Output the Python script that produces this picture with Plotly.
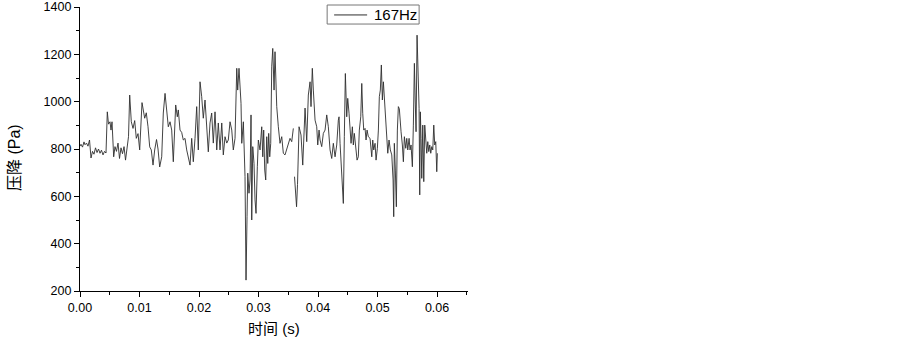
import plotly.graph_objects as go

# time in milliseconds, converted to seconds below
time_ms = [
    0.00, 0.17, 0.42, 0.67, 0.84, 1.09, 1.34, 1.60, 1.85, 2.10, 2.35, 2.61, 2.86, 3.11, 3.36, 3.61,
    3.87, 4.12, 4.37, 4.59, 4.79, 5.04, 5.21, 5.38, 5.66, 5.88, 6.13, 6.39, 6.64, 6.89, 7.14, 7.40,
    7.65, 7.90, 8.15, 8.35, 8.62, 8.91, 9.19, 9.46, 9.75, 10.03, 10.42, 10.87, 11.14, 11.43, 11.71,
    11.98, 12.27, 12.55, 12.86, 13.11, 13.39, 13.73, 14.00, 14.29, 14.57, 14.84, 15.13, 15.41, 15.68,
    16.08, 16.35, 16.52, 16.81, 17.09, 17.36, 17.65, 17.93, 18.20, 18.49, 18.77, 19.04, 19.33, 19.61,
    19.88, 20.17, 20.45, 20.72, 21.01, 21.29, 21.56, 21.85, 22.13, 22.40, 22.69, 22.98, 23.24, 23.53,
    23.82, 24.08, 24.37, 24.66, 24.92, 25.21, 25.50, 25.76, 26.05, 26.34, 26.50, 26.72, 26.89, 27.06,
    27.18, 27.45, 27.73, 27.90, 28.07, 28.19, 28.40, 28.57, 28.74, 28.86, 29.03, 29.24, 29.41, 29.58,
    29.80, 29.97, 30.25, 30.54, 30.71, 30.87, 31.04, 31.21, 31.38, 31.55, 31.71, 31.88, 32.05, 32.22,
    32.39, 32.61, 32.77, 33.06, 33.33, 33.61, 33.90, 34.17, 34.45, 34.74, 35.01, 35.29, 35.58, 35.85,
    35.95, 36.05, 36.22, 36.39, 36.55, 36.81, 37.14, 37.43, 37.82, 38.10, 38.37, 38.66, 38.82, 39.04,
    39.21, 39.50, 39.78, 39.95, 40.17, 40.34, 40.62, 40.89, 41.18, 41.46, 41.73, 42.02, 42.30, 42.57,
    42.86, 43.14, 43.41, 43.53, 43.70, 43.87, 44.08, 44.25, 44.42, 44.59, 44.82, 44.99, 45.21, 45.38,
    45.55, 45.77, 45.93, 46.10, 46.34, 46.56, 46.77, 46.94, 47.18, 47.35, 47.51, 47.68, 47.90, 48.07,
    48.24, 48.45, 48.74, 49.03, 49.19, 49.36, 49.58, 49.75, 49.97, 50.14, 50.30, 50.47, 50.64, 50.81,
    50.98, 51.14, 51.38, 51.55, 51.72, 51.93, 52.15, 52.39, 52.61, 52.72, 52.82, 52.99, 53.16, 53.33,
    53.50, 53.66, 53.78, 53.95, 54.17, 54.34, 54.51, 54.74, 54.91, 55.08, 55.30, 55.46, 55.63, 55.85,
    56.02, 56.19, 56.35, 56.47, 56.64, 56.81, 56.98, 57.09, 57.19, 57.31, 57.43, 57.60, 57.77, 57.93,
    58.10, 58.27, 58.44, 58.61, 58.77, 58.94, 59.11, 59.28, 59.45, 59.61, 59.78, 59.95, 60.05,
]

# pressure drop (Pa); None marks the gap in the record
pressure_pa = [
    812, 820, 808, 830, 818, 825, 812, 838, 762, 790, 778, 805, 785, 800, 782, 795,
    775, 790, 783, 957, 905, 915, 880, 915, 767, 810, 790, 825, 760, 805, 780, 810,
    753, 800, 852, 1028, 915, 887, 920, 845, 865, 796, 996, 930, 953, 894, 809,
    796, 732, 796, 840, 800, 724, 767, 952, 1035, 944, 894, 915, 880, 746,
    986, 936, 965, 880, 870, 838, 845, 796, 767, 732, 845, 746, 845, 979,
    796, 1084, 1021, 930, 1007, 894, 788, 910, 952, 825, 957, 796, 910, 796,
    910, 775, 852, 825, 838, 915, 880, 796, 845, 1141, 1049, 1141, 1049, 993,
    824, 915, 683, 246, 514, 698, 613, 669, 944, 500, 810, 739, 585, 528,
    725, 838, 796, 894, 767, 880, 711, 669, 852, 739, 866, 767, 824, 1150,
    1225, 1049, 1211, 979, 894, 824, 852, 782, 775, 796, 824, 845, 831, 887,
    None, 683, 585, 556, 650, 894, 859, 732, 973, 831, 1028, 1084, 979, 1141,
    1049, 922, 894, 817, 880, 838, 810, 866, 880, 944, 894, 796, 760, 824,
    767, 817, 922, 936, 824, 746, 655, 570, 852, 1119, 936, 1014, 951, 880,
    824, 894, 817, 866, 796, 753, 767, 880, 936, 1077, 951, 880, 887, 838,
    880, 852, 845, 767, 838, 796, 824, 753, 803, 880, 1021, 1049, 1155, 1007,
    1084, 1021, 951, 866, 782, 838, 796, 775, 669, 514, 824, 711, 556, 880,
    979, 970, 901, 873, 817, 746, 852, 803, 845, 796, 845, 796, 817, 725,
    901, 1162, 986, 873, 1281, 1042, 972, 606, 957, 845, 676, 901, 662, 901,
    845, 782, 831, 789, 817, 782, 810, 796, 901, 817, 831, 704, 782,
]

x_ticks = [0.00, 0.01, 0.02, 0.03, 0.04, 0.05, 0.06]
x_tick_labels = ["0.00", "0.01", "0.02", "0.03", "0.04", "0.05", "0.06"]
y_ticks = [200, 400, 600, 800, 1000, 1200, 1400]
series_name = "167Hz"
x_title = "时间 (s)"
y_title = "压降 (Pa)"

time_s = [v / 1000.0 for v in time_ms]
line_color = "#2e2e2e"

fig = go.Figure()
fig.add_trace(go.Scatter(
    x=time_s, y=pressure_pa, mode="lines", name=series_name,
    line=dict(color=line_color, width=0.9), connectgaps=False, showlegend=False,
))

tick_font = dict(family="Liberation Sans, Arial, sans-serif", size=12.5, color="#000")
title_font_x = dict(family="Liberation Sans, Noto Sans CJK SC, sans-serif", size=15, color="#000")
title_font_y = dict(family="Liberation Sans, Noto Sans CJK SC, sans-serif", size=16, color="#000")

# hand-drawn legend box (paper coordinates)
fig.add_shape(type="rect", xref="paper", yref="paper",
              x0=0.637, x1=0.874, y0=0.940, y1=1.007,
              line=dict(color="#777", width=1), fillcolor="white")
fig.add_shape(type="line", xref="paper", yref="paper",
              x0=0.655, x1=0.740, y0=0.972, y1=0.972,
              line=dict(color=line_color, width=1))
fig.add_annotation(xref="paper", yref="paper", x=0.753, y=0.972,
                   xanchor="left", yanchor="middle", text=series_name,
                   showarrow=False, font=dict(family="Liberation Sans, Arial, sans-serif", size=15, color="#000"))

# axis titles
fig.add_annotation(xref="paper", yref="paper", x=0.5, y=0, yshift=-37,
                   xanchor="center", yanchor="middle", text=x_title,
                   showarrow=False, font=title_font_x)
fig.add_annotation(xref="paper", yref="paper", x=0, y=0.5, xshift=-66, yshift=-9,
                   xanchor="center", yanchor="middle", text=y_title, textangle=-90,
                   showarrow=False, font=title_font_y)

fig.update_layout(
    width=903, height=339,
    margin=dict(l=80, r=435, t=7, b=48),
    paper_bgcolor="white", plot_bgcolor="white",
    showlegend=False,
    xaxis=dict(
        range=[0, 0.0652], tickmode="array", tickvals=x_ticks, ticktext=x_tick_labels,
        showgrid=False, zeroline=False, showline=True, linecolor="#000", linewidth=1.3,
        ticks="outside", ticklen=5, tickwidth=1.3, tickcolor="#000", tickfont=tick_font,
        minor=dict(dtick=0.005, tick0=0, ticks="outside", ticklen=3, tickwidth=1.1, tickcolor="#000", showgrid=False),
        automargin=False, ticklabeloverflow="allow",
    ),
    yaxis=dict(
        range=[200, 1400], tickmode="array", tickvals=y_ticks,
        showgrid=False, zeroline=False, showline=True, linecolor="#000", linewidth=1.3,
        ticks="outside", ticklen=5, tickwidth=1.3, tickcolor="#000", tickfont=tick_font,
        minor=dict(dtick=100, tick0=200, ticks="outside", ticklen=3, tickwidth=1.1, tickcolor="#000", showgrid=False),
        automargin=False, ticklabeloverflow="allow",
    ),
)

fig.write_html("out.html", config={"displayModeBar": False},
               post_script="document.body.style.margin='0';")
